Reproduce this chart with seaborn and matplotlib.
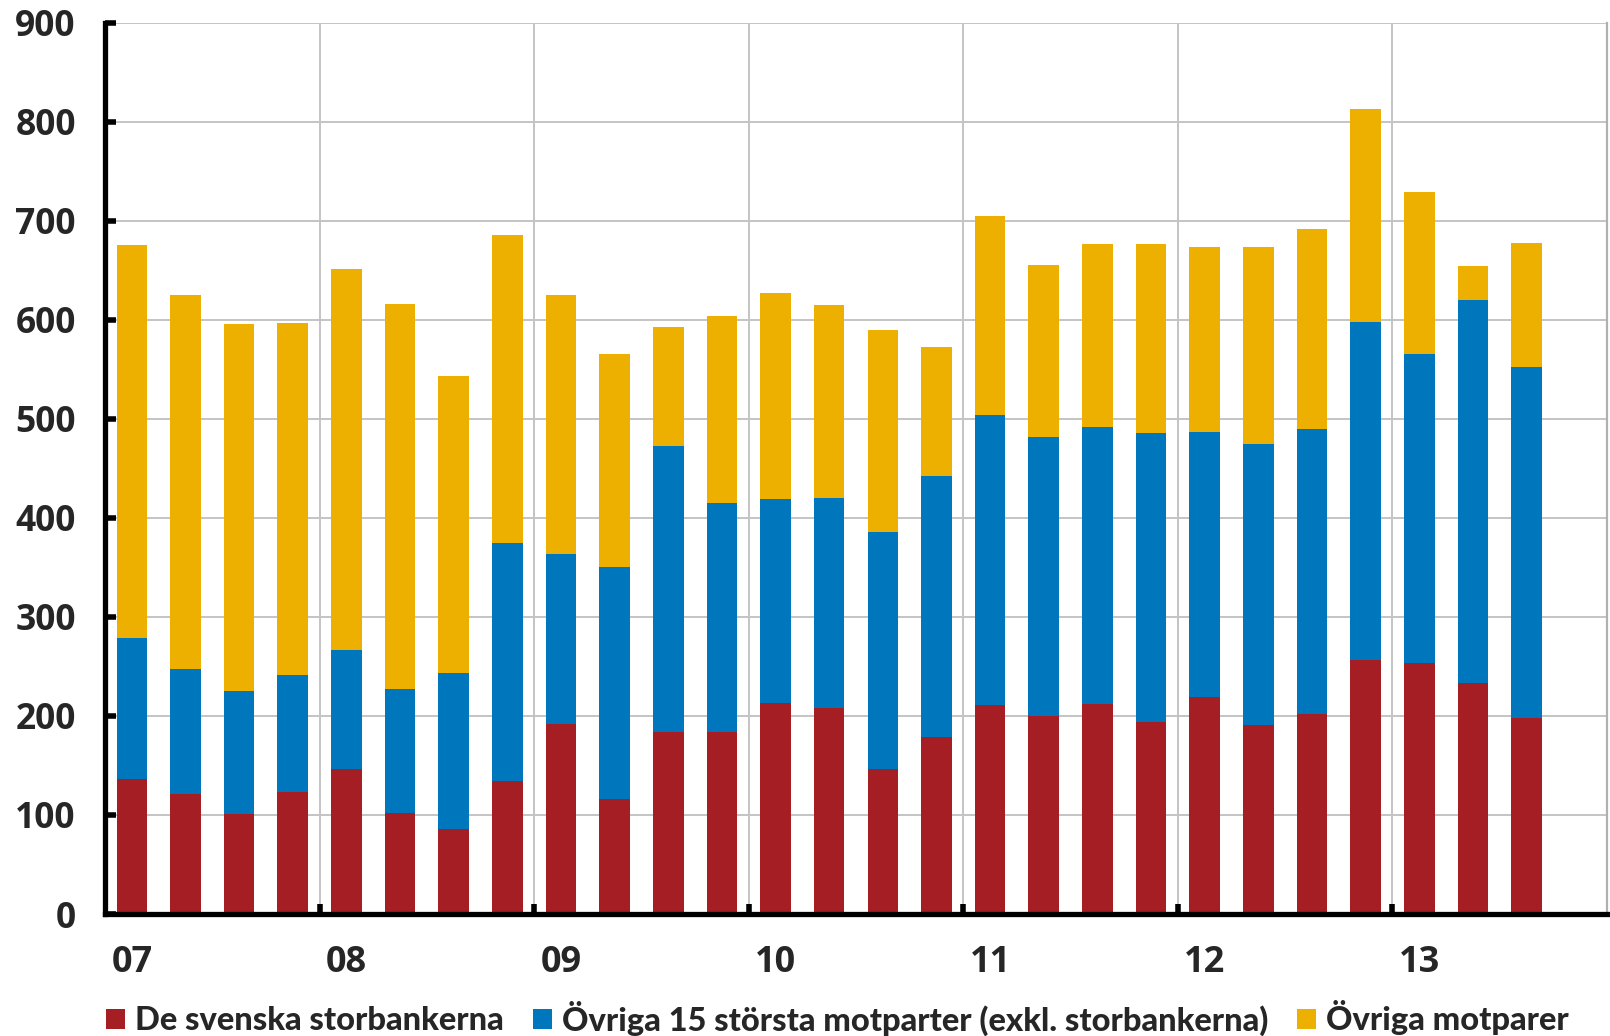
import matplotlib
matplotlib.use("Agg")
import matplotlib.pyplot as plt
import seaborn as sns
import numpy as np
from matplotlib.patches import Patch

# ---- data (SEK billion, quarterly 2007Q1 - 2013Q3) ----
quarters = ["07Q1", "07Q2", "07Q3", "07Q4", "08Q1", "08Q2", "08Q3", "08Q4",
            "09Q1", "09Q2", "09Q3", "09Q4", "10Q1", "10Q2", "10Q3", "10Q4",
            "11Q1", "11Q2", "11Q3", "11Q4", "12Q1", "12Q2", "12Q3", "12Q4",
            "13Q1", "13Q2", "13Q3"]
storbanker = [136, 121, 101, 123, 146, 102, 86, 134, 192, 116, 184, 184, 213, 208,
              146, 179, 211, 200, 212, 194, 219, 191, 202, 256, 253, 233, 198]
ovriga15 = [143, 126, 124, 118, 121, 125, 157, 241, 172, 234, 289, 231, 206, 212,
            240, 263, 293, 282, 280, 292, 268, 284, 288, 342, 312, 387, 354]
ovriga = [397, 378, 371, 356, 384, 389, 300, 311, 261, 215, 120, 189, 208, 195,
          204, 131, 201, 173, 185, 191, 187, 199, 202, 215, 164, 34, 126]
year_labels = ["07", "08", "09", "10", "11", "12", "13"]
series_names = ["De svenska storbankerna",
                "Övriga 15 största motparter (exkl. storbankerna)",
                "Övriga motparer"]
colors = ["#A51E24", "#0076BD", "#EEB000"]

sns.set_theme(style="white")
plt.rcParams["font.family"] = ["Open Sans", "DejaVu Sans"]
plt.rcParams["font.weight"] = "bold"

fig = plt.figure(figsize=(16.10, 10.36), dpi=100)
ax = fig.add_axes([105 / 1610, 1 - 914 / 1036, (1607 - 105) / 1610, (914 - 22.7) / 1036])

red = np.array(storbanker)
blue_top = red + np.array(ovriga15)
total = blue_top + np.array(ovriga)

bw = 0.57
sns.barplot(x=quarters, y=total, order=quarters, color=colors[2], saturation=1,
            width=bw, linewidth=0, ax=ax)
sns.barplot(x=quarters, y=blue_top, order=quarters, color=colors[1], saturation=1,
            width=bw, linewidth=0, ax=ax)
sns.barplot(x=quarters, y=red, order=quarters, color=colors[0], saturation=1,
            width=bw, linewidth=0, ax=ax)

ax.set_xlim(-0.5, 27.5)
ax.set_ylim(0, 900)
ax.set_xlabel("")
ax.set_ylabel("")

# y axis
ax.set_yticks(np.arange(0, 901, 100))
ax.set_yticklabels([str(v) for v in range(0, 901, 100)])
ax.tick_params(axis="y", which="major", direction="in", length=8, width=4,
               color="black", labelsize=25.5, pad=21, left=True)

# x axis
ax.set_xticks(np.arange(0, 28, 4))
ax.set_xticklabels(year_labels)
ax.tick_params(axis="x", which="major", length=0, labelsize=26, pad=22)
ax.set_xticks(np.arange(3.5, 24, 4), minor=True)
ax.tick_params(axis="x", which="minor", direction="in", length=7, width=4,
               color="black", bottom=True)

ax.grid(False)
ax.yaxis.grid(True, which="major", color="#C4C4C4", linewidth=1.4)
ax.xaxis.grid(True, which="minor", color="#C4C4C4", linewidth=1.4)
ax.set_axisbelow(True)

for s in ["left", "bottom"]:
    ax.spines[s].set_color("black")
    ax.spines[s].set_linewidth(3.8)
ax.spines["top"].set_visible(False)
ax.spines["right"].set_color("#B0B0B0")
ax.spines["right"].set_linewidth(1.6)
for lbl in ax.get_xticklabels() + ax.get_yticklabels():
    lbl.set_fontweight("bold")

handles = [Patch(facecolor=c, edgecolor="none") for c in colors]
fig.legend(handles, series_names, loc="center left",
           bbox_to_anchor=(106 / 1610, 1 - 1018 / 1036), ncol=3, frameon=False,
           handlelength=0.58, handleheight=0.58, handletextpad=0.3,
           columnspacing=0.9, borderaxespad=0, borderpad=0,
           prop={"family": ["Lato", "DejaVu Sans"], "weight": "black", "size": 23.5})

fig.savefig("out.png", dpi=100)
